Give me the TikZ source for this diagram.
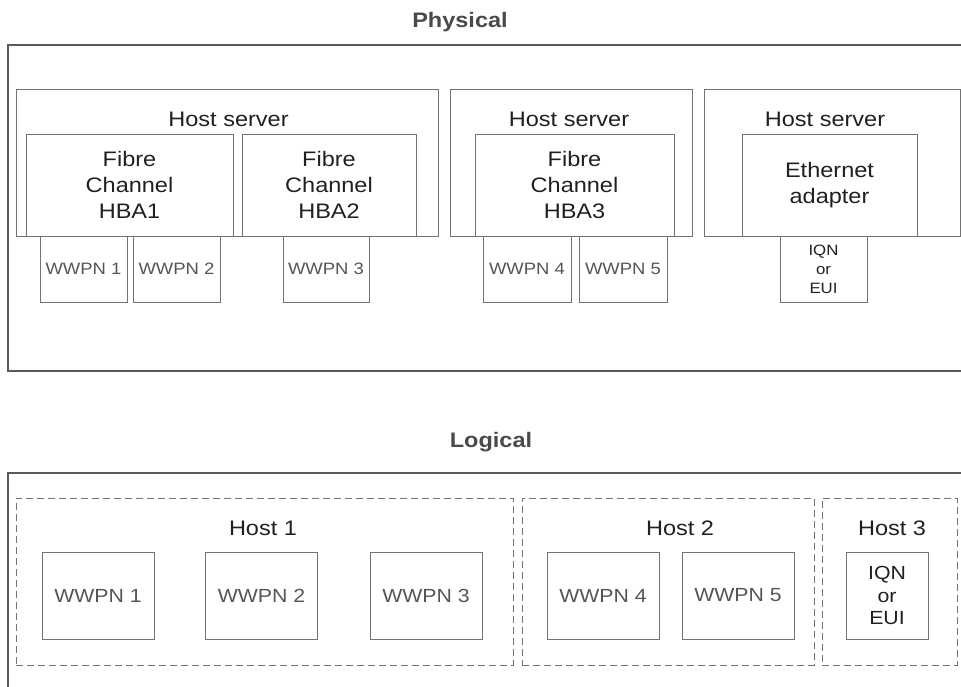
\documentclass[tikz,border=0pt]{standalone}
\usepackage{fontspec}
\setmainfont{Liberation Sans}[FakeStretch=1.12]
\definecolor{frame}{HTML}{5A5A5A}
\definecolor{edge}{HTML}{737373}
\definecolor{ink}{HTML}{231F20}
\definecolor{soft}{HTML}{555555}
\definecolor{head}{HTML}{4A4A4A}
\begin{document}
\begin{tikzpicture}[x=1pt,y=-1pt,
  box/.style={draw=edge,line width=0.9pt,rectangle,inner sep=0pt,align=center,
              text=ink,font=\fontsize{21}{26}\selectfont},
  wwpn/.style={box,text=soft,font=\fontsize{16.5}{20}\selectfont},
  lwwpn/.style={box,text=soft,font=\fontsize{19}{23}\selectfont,
                minimum width=112pt,minimum height=87pt},
  iqnsmall/.style={box,font=\fontsize{15}{19}\selectfont},
  iqnbig/.style={box,font=\fontsize{19}{22.5}\selectfont},
  host/.style={draw=edge,line width=0.9pt,dash pattern=on 7pt off 4pt,
               rectangle,inner sep=0pt},
  lbl/.style={inner sep=0pt,text=ink,font=\fontsize{21}{26}\selectfont},
  title/.style={inner sep=0pt,text=head,font=\fontsize{21}{26}\selectfont\bfseries}]
\useasboundingbox (0,0) rectangle (961,686);

% ---------- physical view ----------
\node[title] (tphys) at (460,22) {Physical};
\draw[frame,line width=1.3pt] (961.5,45) -- (8,45) -- (8,371) -- (961.5,371);

% host server 1
\node[box,minimum width=422pt,minimum height=147pt] (hs1) at (227,162.5) {};
\node[lbl] (hs1t) at (228.5,119) {Host server};
\node[box,minimum width=207pt,minimum height=102pt] (hba1) at (129.5,185) {Fibre\\Channel\\HBA1};
\node[box,minimum width=174pt,minimum height=102pt] (hba2) at (329,185) {Fibre\\Channel\\HBA2};
\node[wwpn,minimum width=87pt,minimum height=66pt] (p1) at (83.5,269) {WWPN 1};
\node[wwpn,minimum width=87pt,minimum height=66pt] (p2) at (176.5,269) {WWPN 2};
\node[wwpn,minimum width=86pt,minimum height=66pt] (p3) at (326,269) {WWPN 3};

% host server 2
\node[box,minimum width=242pt,minimum height=147pt] (hs2) at (571,162.5) {};
\node[lbl] (hs2t) at (569,119) {Host server};
\node[box,minimum width=199pt,minimum height=102pt] (hba3) at (574.5,185) {Fibre\\Channel\\HBA3};
\node[wwpn,minimum width=88pt,minimum height=66pt] (p4) at (527,269) {WWPN 4};
\node[wwpn,minimum width=88pt,minimum height=66pt] (p5) at (623,269) {WWPN 5};

% host server 3
\node[box,minimum width=256pt,minimum height=147pt] (hs3) at (832,162.5) {};
\node[lbl] (hs3t) at (825,119) {Host server};
\node[box,minimum width=175pt,minimum height=102pt] (eth) at (829.5,185) {Ethernet\\adapter};
\node[iqnsmall,minimum width=87pt,minimum height=66pt] (piqn) at (823.5,269) {IQN\\or\\EUI};

% ---------- logical view ----------
\node[title] (tlog) at (491,442) {Logical};
\draw[frame,line width=1.3pt] (961.5,473) -- (8,473) -- (8,686.5);

% host 1
\node[host,minimum width=497pt,minimum height=167pt] (h1) at (264.5,581.5) {};
\node[lbl] (h1t) at (263,528) {Host 1};
\node[lwwpn] (l1) at (98,595.5) {WWPN 1};
\node[lwwpn] (l2) at (261.5,595.5) {WWPN 2};
\node[lwwpn] (l3) at (426,595.5) {WWPN 3};

% host 2
\node[host,minimum width=292pt,minimum height=167pt] (h2) at (668,581.5) {};
\node[lbl] (h2t) at (680,528) {Host 2};
\node[lwwpn] (l4) at (603,595.5) {WWPN 4};
\node[lwwpn] (l5) at (738,595.5) {WWPN 5};

% host 3
\node[host,minimum width=135pt,minimum height=167pt] (h3) at (889.5,581.5) {};
\node[lbl] (h3t) at (892,528) {Host 3};
\node[iqnbig,minimum width=82pt,minimum height=87pt] (liqn) at (887,595.5) {IQN\\or\\EUI};
\end{tikzpicture}
\end{document}
